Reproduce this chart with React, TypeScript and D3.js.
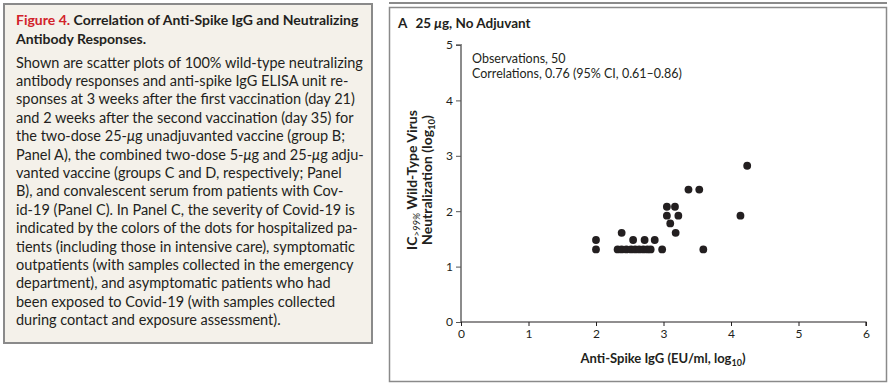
import * as React from 'react';
import * as d3 from 'd3';

// scatter points (log10 anti-spike IgG vs log10 IC>99% neutralization)
const iggLog: number[] = [
	2.0, 2.0, 2.32, 2.38, 2.45, 2.52, 2.58, 2.64, 2.7, 2.76, 2.81, 2.98, 3.59, 2.38, 2.55, 2.72, 2.87, 3.05, 3.17, 3.05, 3.22,
	3.1, 3.18, 3.37, 3.53, 4.24, 4.14,
];
const neutLog: number[] = [
	1.48, 1.31, 1.31, 1.31, 1.31, 1.31, 1.31, 1.31, 1.31, 1.31, 1.31, 1.31, 1.31, 1.61, 1.48, 1.48, 1.48, 2.08, 2.08, 1.92, 1.92,
	1.78, 1.61, 2.39, 2.39, 2.82, 1.92,
];
const xTicks: number[] = [0, 1, 2, 3, 4, 5, 6];
const yTicks: number[] = [0, 1, 2, 3, 4, 5];

const panelTitle = '25 μg, No Adjuvant';
const notes: string[] = ['Observations, 50', 'Correlations, 0.76 (95% CI, 0.61–0.86)'];

const captionTitle: string[] = ['Correlation of Anti-Spike IgG and Neutralizing', 'Antibody Responses.'];
const captionBody: string[] = [
	'Shown are scatter plots of 100% wild-type neutralizing',
	'antibody responses and anti-spike IgG ELISA unit re-',
	'sponses at 3 weeks after the first vaccination (day 21)',
	'and 2 weeks after the second vaccination (day 35) for',
	'the two-dose 25-μg unadjuvanted vaccine (group B;',
	'Panel A), the combined two-dose 5-μg and 25-μg adju-',
	'vanted vaccine (groups C and D, respectively; Panel',
	'B), and convalescent serum from patients with Cov-',
	'id-19 (Panel C). In Panel C, the severity of Covid-19 is',
	'indicated by the colors of the dots for hospitalized pa-',
	'tients (including those in intensive care), symptomatic',
	'outpatients (with samples collected in the emergency',
	'department), and asymptomatic patients who had',
	'been exposed to Covid-19 (with samples collected',
	'during contact and exposure assessment).',
];

const FONT = 'Lato, "Noto Sans", sans-serif';
const INK = '#231f20';

// render μ in italics like the journal does
function withMu(line: string) {
	const parts = line.split('μ');
	return parts.map((p, i) => (
		<React.Fragment key={i}>
			{i > 0 && <tspan fontStyle="italic">μ</tspan>}
			{p}
		</React.Fragment>
	));
}

export default function App() {
	const axRef = React.useRef<SVGGElement>(null);

	const x = d3.scaleLinear().domain([0, 6]).range([461, 866]);
	const y = d3.scaleLinear().domain([0, 5]).range([322, 45]);

	React.useEffect(() => {
		const g = d3.select(axRef.current);
		g.selectAll('*').remove();

		// y axis: grey, ticks to the left
		const ya = g
			.append('g')
			.attr('transform', `translate(${x(0)},0)`)
			.call(d3.axisLeft(y).tickValues(yTicks).tickSize(5).tickPadding(3).tickFormat(d3.format('d')));
		ya.select('.domain').attr('d', `M-5,${y(5)}H0V${y(0)}`).attr('stroke', '#8c8c8c').attr('stroke-width', 2);
		ya.selectAll('.tick line').attr('stroke', '#555').attr('stroke-width', 1);
		ya.selectAll('.tick text').attr('font-family', FONT).attr('font-size', 12).attr('fill', INK);

		// x axis: black, ticks down
		const xa = g
			.append('g')
			.attr('transform', `translate(0,${y(0)})`)
			.call(d3.axisBottom(x).tickValues(xTicks).tickSize(4).tickPadding(3).tickFormat(d3.format('d')));
		xa.select('.domain').attr('d', `M${x(0)},0H${x(6)}V4`).attr('stroke', INK).attr('stroke-width', 1.2);
		xa.selectAll('.tick line').attr('stroke', INK);
		xa.selectAll('.tick text').attr('font-family', FONT).attr('font-size', 12).attr('fill', INK);
	}, []);

	return (
		<svg width={892} height={384} style={{ position: 'absolute', left: 0, top: 0 }} fontFamily={FONT}>
			<rect x={0} y={0} width={892} height={384} fill="#fff" />

			{/* caption box */}
			<rect x={4} y={4} width={368} height={339} fill="#f4f1ea" stroke="#8a8a8a" strokeWidth={2} />
			<text x={16} y={25} fontSize={14} fontWeight={700} fill={INK}>
				<tspan fill="#d2232a">Figure 4.</tspan> {captionTitle[0]}
			</text>
			<text x={16} y={43.5} fontSize={14} fontWeight={700} fill={INK}>
				{captionTitle[1]}
			</text>
			{captionBody.map((line, i) => (
				<text key={i} x={16} y={67.5 + i * 18.4} fontSize={14.5} fill={INK}>
					{withMu(line)}
				</text>
			))}

			{/* panel frame */}
			<line x1={389} x2={887} y1={3} y2={3} stroke="#8a8a8a" strokeWidth={2} />
			<rect x={389.5} y={7.5} width={497} height={374} fill="none" stroke="#8a8a8a" strokeWidth={1.5} />
			<text x={398} y={28} fontSize={13.5} fontWeight={700} fill={INK}>
				A
				<tspan dx={8}>{withMu(panelTitle)}</tspan>
			</text>

			{notes.map((n, i) => (
				<text key={i} x={472} y={63 + i * 15} fontSize={12.5} fill={INK}>
					{n}
				</text>
			))}

			<g ref={axRef} />

			{/* points */}
			{iggLog.map((v, i) => (
				<circle key={i} cx={x(v)} cy={y(neutLog[i])} r={3.9} fill={INK} />
			))}

			{/* axis titles */}
			<text x={663} y={363} textAnchor="middle" fontSize={13} fontWeight={700} fill={INK}>
				Anti-Spike IgG (EU/ml, log
				<tspan fontSize={9} dy={3}>10</tspan>
				<tspan dy={-3}>)</tspan>
			</text>
			<g transform="translate(0,180) rotate(-90)" fontSize={14} fontWeight={700} fill={INK}>
				<text x={0} y={417} textAnchor="middle">
					IC
					<tspan fontSize={9.5} dy={3} fontWeight={400} fontStyle="italic">
						{'>99%'}
					</tspan>
					<tspan dy={-3}> Wild-Type Virus</tspan>
				</text>
				<text x={0} y={432} textAnchor="middle">
					Neutralization (log
					<tspan fontSize={9.5} dy={3}>10</tspan>
					<tspan dy={-3}>)</tspan>
				</text>
			</g>
		</svg>
	);
}
